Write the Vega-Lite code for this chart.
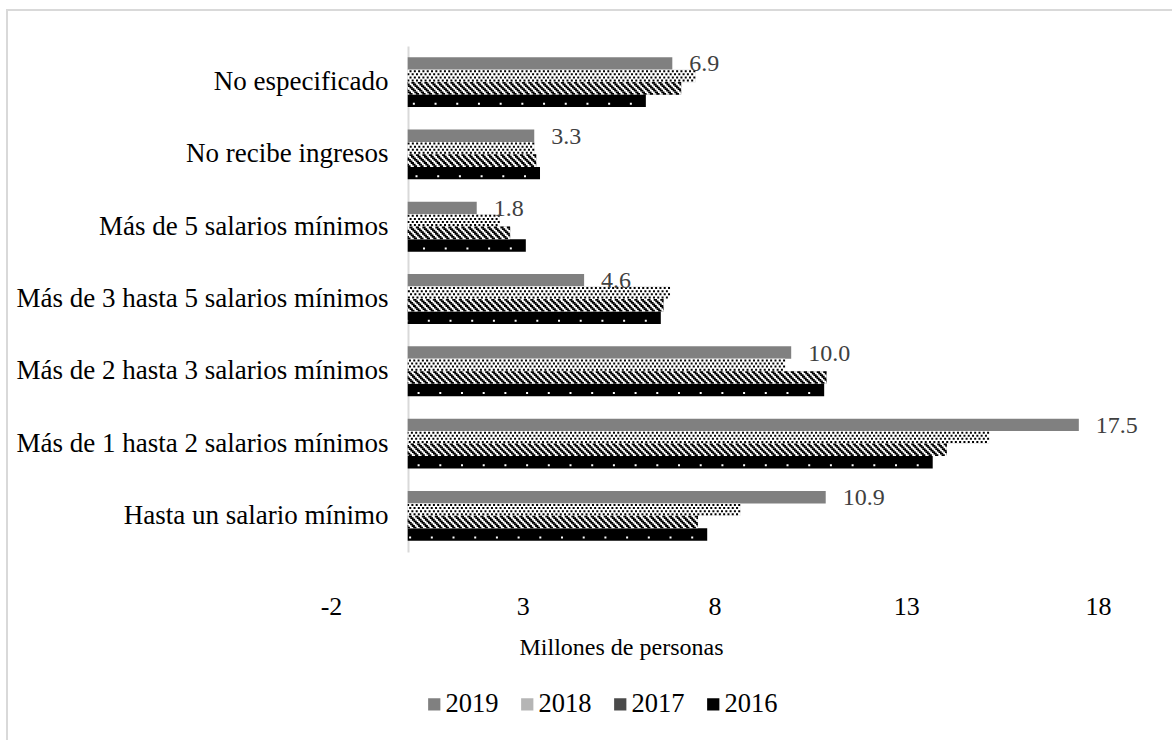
{
  "$schema": "https://vega.github.io/schema/vega-lite/v6.json",
  "autosize": "none",
  "width": 1168,
  "height": 733,
  "padding": {"left": 7, "top": 10, "right": -3, "bottom": -3},
  "background": "white",
  "config": {
    "font": "Liberation Serif",
    "view": {"stroke": "#d9d9d9", "strokeWidth": 2},
    "axis": {"grid": false, "ticks": false}
  },
  "data": {
    "values": [
      {"categoria": "No especificado", "anio": "2019", "valor": 6.9},
      {"categoria": "No especificado", "anio": "2018", "valor": 7.5},
      {"categoria": "No especificado", "anio": "2017", "valor": 7.13},
      {"categoria": "No especificado", "anio": "2016", "valor": 6.21},
      {"categoria": "No recibe ingresos", "anio": "2019", "valor": 3.3},
      {"categoria": "No recibe ingresos", "anio": "2018", "valor": 3.3},
      {"categoria": "No recibe ingresos", "anio": "2017", "valor": 3.35},
      {"categoria": "No recibe ingresos", "anio": "2016", "valor": 3.45},
      {"categoria": "Más de 5 salarios mínimos", "anio": "2019", "valor": 1.8},
      {"categoria": "Más de 5 salarios mínimos", "anio": "2018", "valor": 2.4},
      {"categoria": "Más de 5 salarios mínimos", "anio": "2017", "valor": 2.67},
      {"categoria": "Más de 5 salarios mínimos", "anio": "2016", "valor": 3.08},
      {"categoria": "Más de 3 hasta 5 salarios mínimos", "anio": "2019", "valor": 4.6},
      {"categoria": "Más de 3 hasta 5 salarios mínimos", "anio": "2018", "valor": 6.84},
      {"categoria": "Más de 3 hasta 5 salarios mínimos", "anio": "2017", "valor": 6.67},
      {"categoria": "Más de 3 hasta 5 salarios mínimos", "anio": "2016", "valor": 6.6},
      {"categoria": "Más de 2 hasta 3 salarios mínimos", "anio": "2019", "valor": 10.0},
      {"categoria": "Más de 2 hasta 3 salarios mínimos", "anio": "2018", "valor": 9.84},
      {"categoria": "Más de 2 hasta 3 salarios mínimos", "anio": "2017", "valor": 10.92},
      {"categoria": "Más de 2 hasta 3 salarios mínimos", "anio": "2016", "valor": 10.86},
      {"categoria": "Más de 1 hasta 2 salarios mínimos", "anio": "2019", "valor": 17.5},
      {"categoria": "Más de 1 hasta 2 salarios mínimos", "anio": "2018", "valor": 15.16},
      {"categoria": "Más de 1 hasta 2 salarios mínimos", "anio": "2017", "valor": 14.06},
      {"categoria": "Más de 1 hasta 2 salarios mínimos", "anio": "2016", "valor": 13.69},
      {"categoria": "Hasta un salario mínimo", "anio": "2019", "valor": 10.9},
      {"categoria": "Hasta un salario mínimo", "anio": "2018", "valor": 8.67},
      {"categoria": "Hasta un salario mínimo", "anio": "2017", "valor": 7.57},
      {"categoria": "Hasta un salario mínimo", "anio": "2016", "valor": 7.81}
    ]
  },
  "encoding": {
    "y": {
      "field": "categoria",
      "type": "nominal",
      "sort": [
        "No especificado",
        "No recibe ingresos",
        "Más de 5 salarios mínimos",
        "Más de 3 hasta 5 salarios mínimos",
        "Más de 2 hasta 3 salarios mínimos",
        "Más de 1 hasta 2 salarios mínimos",
        "Hasta un salario mínimo"
      ],
      "scale": {"range": [36, 542], "paddingInner": 0.31, "paddingOuter": 0.155},
      "axis": {
        "title": null,
        "offset": -401,
        "domain": true,
        "domainColor": "#d9d9d9",
        "domainWidth": 2,
        "ticks": false,
        "labelFontSize": 27,
        "labelColor": "#000000",
        "labelPadding": 20,
        "labelLimit": 0
      }
    }
  },
  "layer": [
    {
      "mark": {"type": "bar"},
      "encoding": {
        "x": {
          "field": "valor",
          "type": "quantitative",
          "stack": null,
          "scale": {"domain": [-2, 18], "range": [324, 1091], "nice": false, "zero": false},
          "axis": {
            "title": "Millones de personas",
            "values": [-2, 3, 8, 13, 18],
            "labelExpr": "'' + datum.value",
            "domain": false,
            "ticks": false,
            "grid": false,
            "offset": -191,
            "labelPadding": 41,
            "labelFontSize": 26,
            "labelColor": "#000000",
            "labelFlush": false,
            "titleFontSize": 24,
            "titleFontWeight": "normal",
            "titleColor": "#000000",
            "titleX": 614,
            "titleY": 95,
            "titleBaseline": "middle",
            "titleAlign": "center"
          }
        },
        "yOffset": {
          "field": "anio",
          "type": "nominal",
          "sort": ["2019", "2018", "2017", "2016"],
          "scale": {"domain": ["2019", "2018", "2017", "2016"], "paddingInner": 0, "paddingOuter": 0}
        },
        "color": {
          "field": "anio",
          "type": "nominal",
          "sort": ["2019", "2018", "2017", "2016"],
          "scale": {"domain": ["2019", "2018", "2017", "2016"], "range": ["#808080", "#b5b5b5", "#4a4a4a", "#000000"]},
          "legend": {
            "title": null,
            "orient": "none",
            "direction": "horizontal",
            "legendX": 414,
            "legendY": 681,
            "padding": 0,
            "symbolType": "square",
            "symbolSize": 150,
            "symbolStrokeWidth": 0,
            "labelFontSize": 26.5,
            "labelFont": "Liberation Serif",
            "labelColor": "#000000",
            "labelOffset": -2,
            "columnPadding": 15
          }
        }
      }
    },
    {
      "transform": [{"filter": "datum.anio === '2018' || datum.anio === '2017'"}],
      "mark": {"type": "bar", "color": "#ffffff"},
      "encoding": {
        "x": {"field": "valor", "type": "quantitative", "stack": null},
        "yOffset": {"field": "anio", "type": "nominal", "sort": ["2019", "2018", "2017", "2016"]}
      }
    },
    {
      "transform": [{"filter": "datum.anio === '2018'"}],
      "mark": {"type": "rule", "color": "#000000", "strokeWidth": 2, "strokeDash": [2, 2.3], "strokeDashOffset": 0, "yOffset": -10.9},
      "encoding": {"x": {"field": "valor", "type": "quantitative"}, "x2": {"datum": 0}}
    },
    {
      "transform": [{"filter": "datum.anio === '2018'"}],
      "mark": {"type": "rule", "color": "#000000", "strokeWidth": 2, "strokeDash": [2, 2.3], "strokeDashOffset": 2.15, "yOffset": -7.8},
      "encoding": {"x": {"field": "valor", "type": "quantitative"}, "x2": {"datum": 0}}
    },
    {
      "transform": [{"filter": "datum.anio === '2018'"}],
      "mark": {"type": "rule", "color": "#000000", "strokeWidth": 2, "strokeDash": [2, 2.3], "strokeDashOffset": 0, "yOffset": -4.7},
      "encoding": {"x": {"field": "valor", "type": "quantitative"}, "x2": {"datum": 0}}
    },
    {
      "transform": [{"filter": "datum.anio === '2018'"}],
      "mark": {"type": "rule", "color": "#000000", "strokeWidth": 2, "strokeDash": [2, 2.3], "strokeDashOffset": 2.15, "yOffset": -1.6},
      "encoding": {"x": {"field": "valor", "type": "quantitative"}, "x2": {"datum": 0}}
    },
    {
      "transform": [{"filter": "datum.anio === '2017'"}],
      "mark": {"type": "rule", "color": "#000000", "strokeWidth": 1.8, "strokeDash": [3.25, 3.25], "strokeDashOffset": 0, "yOffset": 0.78},
      "encoding": {"x": {"field": "valor", "type": "quantitative"}, "x2": {"datum": 0}}
    },
    {
      "transform": [{"filter": "datum.anio === '2017'"}],
      "mark": {"type": "rule", "color": "#000000", "strokeWidth": 1.8, "strokeDash": [3.25, 3.25], "strokeDashOffset": 1.56, "yOffset": 2.34},
      "encoding": {"x": {"field": "valor", "type": "quantitative"}, "x2": {"datum": 0}}
    },
    {
      "transform": [{"filter": "datum.anio === '2017'"}],
      "mark": {"type": "rule", "color": "#000000", "strokeWidth": 1.8, "strokeDash": [3.25, 3.25], "strokeDashOffset": 3.12, "yOffset": 3.9},
      "encoding": {"x": {"field": "valor", "type": "quantitative"}, "x2": {"datum": 0}}
    },
    {
      "transform": [{"filter": "datum.anio === '2017'"}],
      "mark": {"type": "rule", "color": "#000000", "strokeWidth": 1.8, "strokeDash": [3.25, 3.25], "strokeDashOffset": 4.68, "yOffset": 5.46},
      "encoding": {"x": {"field": "valor", "type": "quantitative"}, "x2": {"datum": 0}}
    },
    {
      "transform": [{"filter": "datum.anio === '2017'"}],
      "mark": {"type": "rule", "color": "#000000", "strokeWidth": 1.8, "strokeDash": [3.25, 3.25], "strokeDashOffset": 6.24, "yOffset": 7.02},
      "encoding": {"x": {"field": "valor", "type": "quantitative"}, "x2": {"datum": 0}}
    },
    {
      "transform": [{"filter": "datum.anio === '2017'"}],
      "mark": {"type": "rule", "color": "#000000", "strokeWidth": 1.8, "strokeDash": [3.25, 3.25], "strokeDashOffset": 1.3, "yOffset": 8.58},
      "encoding": {"x": {"field": "valor", "type": "quantitative"}, "x2": {"datum": 0}}
    },
    {
      "transform": [{"filter": "datum.anio === '2017'"}],
      "mark": {"type": "rule", "color": "#000000", "strokeWidth": 1.8, "strokeDash": [3.25, 3.25], "strokeDashOffset": 2.86, "yOffset": 10.14},
      "encoding": {"x": {"field": "valor", "type": "quantitative"}, "x2": {"datum": 0}}
    },
    {
      "transform": [{"filter": "datum.anio === '2017'"}],
      "mark": {"type": "rule", "color": "#000000", "strokeWidth": 1.7, "strokeDash": [3.25, 3.25], "strokeDashOffset": 4.42, "yOffset": 11.65},
      "encoding": {"x": {"field": "valor", "type": "quantitative"}, "x2": {"datum": 0}}
    },
    {
      "transform": [{"filter": "datum.anio === '2016'"}],
      "mark": {"type": "rule", "color": "#ffffff", "strokeWidth": 2, "strokeDash": [2, 19.7], "strokeDashOffset": 7.7, "yOffset": 21.7},
      "encoding": {"x": {"field": "valor", "type": "quantitative"}, "x2": {"datum": 0}}
    },
    {
      "transform": [{"filter": "datum.anio === '2019'"}],
      "mark": {
        "type": "text",
        "align": "left",
        "baseline": "middle",
        "dx": 17,
        "yOffset": -17.7,
        "fontSize": 24,
        "font": "Liberation Serif",
        "color": "#404040"
      },
      "encoding": {
        "x": {"field": "valor", "type": "quantitative"},
        "text": {"field": "valor", "type": "quantitative", "format": ".1f"}
      }
    }
  ]
}
